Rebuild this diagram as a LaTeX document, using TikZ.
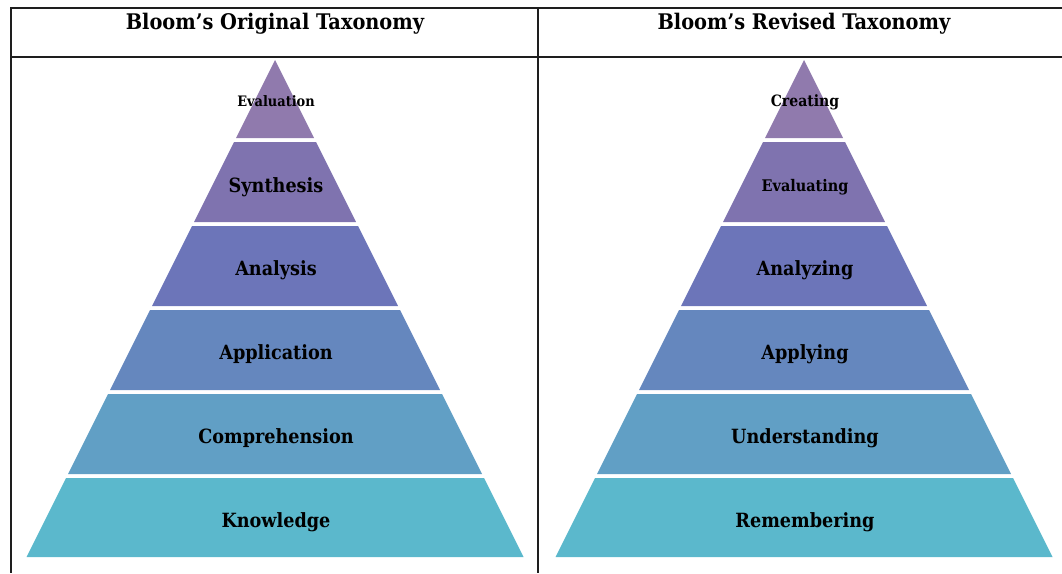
\documentclass[tikz,border=0pt]{standalone}
\usepackage{fontspec}
\setmainfont{DejaVu Serif Condensed}
\definecolor{bandA}{RGB}{144,122,173}
\definecolor{bandB}{RGB}{127,115,175}
\definecolor{bandC}{RGB}{108,117,185}
\definecolor{bandD}{RGB}{101,135,190}
\definecolor{bandE}{RGB}{97,159,197}
\definecolor{bandF}{RGB}{91,184,204}
\definecolor{rule}{RGB}{30,30,30}
\tikzset{
  rulel/.style={draw=rule,line width=2pt},
  lbl/.style={font=\bfseries\fontsize{19.6}{22}\selectfont,inner sep=0pt,text=black},
  head/.style={font=\bfseries\fontsize{21.5}{24}\selectfont,inner sep=0pt,text=black}
}
\newcommand{\band}[4]{% cx, ytop, ybot, color
  \fill[#4] ({#1-(#2-60)/2},#2) -- ({#1+(#2-60)/2},#2) -- ({#1+(#3-60)/2},#3) -- ({#1-(#3-60)/2},#3) -- cycle;}
\begin{document}
\begin{tikzpicture}[x=1pt,y=-1pt]
\useasboundingbox (0,0) rectangle (1062,573);
% table rules
\draw[rulel] (10,7.5) -- (1062,7.5);
\draw[rulel] (10,57) -- (1062,57);
\draw[rulel] (10.5,7) -- (10.5,573);
\draw[rulel] (537.5,7) -- (537.5,573);
\node[head] (h1) at (275,24) {Bloom’s Original Taxonomy};
\node[head] (h2) at (804,24) {Bloom’s Revised Taxonomy};
% pyramids
\foreach \cx in {275,804}{
  \band{\cx}{60}{138}{bandA}
  \band{\cx}{142}{222}{bandB}
  \band{\cx}{226}{306}{bandC}
  \band{\cx}{310}{390}{bandD}
  \band{\cx}{394}{474}{bandE}
  \band{\cx}{478}{557}{bandF}
}
\node[lbl,font=\bfseries\fontsize{14.4}{16}\selectfont] (o1) at (276,101.5) {Evaluation};
\node[lbl] (o2) at (276,187) {Synthesis};
\node[lbl] (o3) at (276,270) {Analysis};
\node[lbl] (o4) at (276,354) {Application};
\node[lbl] (o5) at (276,438) {Comprehension};
\node[lbl] (o6) at (276,522) {Knowledge};
\node[lbl,font=\bfseries\fontsize{15.6}{18}\selectfont] (r1) at (805,102.5) {Creating};
\node[lbl,font=\bfseries\fontsize{16}{18}\selectfont] (r2) at (805,187) {Evaluating};
\node[lbl] (r3) at (805,270) {Analyzing};
\node[lbl] (r4) at (805,354) {Applying};
\node[lbl] (r5) at (805,438) {Understanding};
\node[lbl] (r6) at (805,522) {Remembering};
\end{tikzpicture}
\end{document}
